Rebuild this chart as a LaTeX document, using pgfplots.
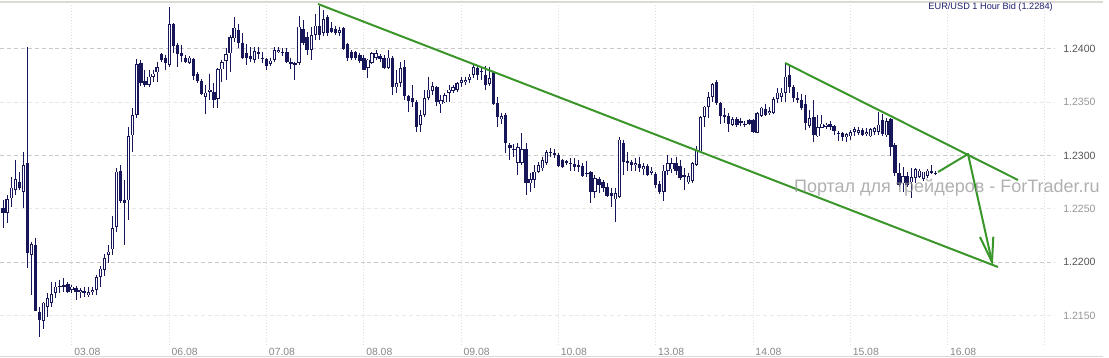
\documentclass[border=0pt]{standalone}
\usepackage{pgfplots}
\usepackage{pgfplotstable}
\pgfplotsset{compat=1.18}
\usepackage{fontspec}
\setmainfont{Liberation Sans}
\definecolor{candle}{RGB}{22,22,88}
\definecolor{grn}{RGB}{58,150,42}
\definecolor{gridmaj}{RGB}{200,200,200}
\definecolor{gridmin}{RGB}{232,232,232}
\definecolor{gridv}{RGB}{222,222,222}
\definecolor{labmaj}{RGB}{85,85,85}
\definecolor{labmin}{RGB}{150,150,150}
\definecolor{xlab}{RGB}{135,135,135}
\definecolor{framec}{RGB}{218,218,210}
\definecolor{titlec}{RGB}{30,30,110}
\definecolor{wm}{RGB}{150,150,150}

\pgfplotstableread{
h O H L C
-17 1.2251 1.2258 1.2232 1.2246
-16 1.2246 1.2263 1.2237 1.2259
-15 1.2260 1.2280 1.2252 1.2270
-14 1.2268 1.2296 1.2263 1.2278
-13 1.2275 1.2285 1.2268 1.2270
-12 1.2266 1.2303 1.2251 1.2291
-11 1.2293 1.2402 1.2195 1.2209
-10 1.2207 1.2219 1.2169 1.2217
-9 1.2216 1.2223 1.2154 1.2154
-8 1.2153 1.2158 1.2130 1.2146
-7 1.2145 1.2163 1.2137 1.2162
-6 1.2158 1.2171 1.2149 1.2166
-5 1.2162 1.2181 1.2158 1.2170
-4 1.2171 1.2181 1.2166 1.2177
-3 1.2177 1.2183 1.2171 1.2178
-2 1.2179 1.2185 1.2172 1.2177
-1 1.2180 1.2181 1.2171 1.2172
0 1.2174 1.2179 1.2171 1.2177
1 1.2176 1.2178 1.2165 1.2172
2 1.2172 1.2176 1.2166 1.2174
3 1.2173 1.2177 1.2167 1.2171
4 1.2169 1.2177 1.2167 1.2172
5 1.2172 1.2177 1.2169 1.2174
6 1.2174 1.2188 1.2169 1.2186
7 1.2186 1.2196 1.2177 1.2194
8 1.2193 1.2208 1.2187 1.2204
9 1.2207 1.2216 1.2199 1.2210
10 1.2212 1.2243 1.2207 1.2232
11 1.2233 1.2288 1.2228 1.2285
12 1.2286 1.2291 1.2256 1.2257
13 1.2258 1.2277 1.2216 1.2256
14 1.2258 1.2327 1.2240 1.2318
15 1.2319 1.2345 1.2303 1.2338
16 1.2338 1.2391 1.2335 1.2386
17 1.2387 1.2390 1.2365 1.2368
18 1.2370 1.2380 1.2364 1.2366
19 1.2366 1.2380 1.2364 1.2374
20 1.2374 1.2380 1.2369 1.2377
21 1.2378 1.2388 1.2369 1.2383
22 1.2395 1.2396 1.2388 1.2390
23 1.2392 1.2394 1.2380 1.2387
24 1.2385 1.2439 1.2383 1.2423
25 1.2423 1.2424 1.2396 1.2403
26 1.2404 1.2406 1.2383 1.2395
27 1.2396 1.2404 1.2388 1.2393
28 1.2392 1.2394 1.2387 1.2388
29 1.2387 1.2393 1.2386 1.2392
30 1.2391 1.2392 1.2371 1.2375
31 1.2377 1.2378 1.2368 1.2370
32 1.2370 1.2372 1.2357 1.2358
33 1.2355 1.2366 1.2339 1.2359
34 1.2360 1.2377 1.2352 1.2362
35 1.2360 1.2368 1.2345 1.2352
36 1.2353 1.2382 1.2345 1.2381
37 1.2381 1.2390 1.2369 1.2388
38 1.2389 1.2401 1.2371 1.2395
39 1.2396 1.2413 1.2378 1.2411
40 1.2410 1.2430 1.2407 1.2420
41 1.2418 1.2423 1.2401 1.2406
42 1.2406 1.2415 1.2391 1.2392
43 1.2396 1.2405 1.2385 1.2392
44 1.2393 1.2402 1.2388 1.2391
45 1.2390 1.2402 1.2387 1.2398
46 1.2397 1.2402 1.2391 1.2395
47 1.2392 1.2397 1.2387 1.2391
48 1.2391 1.2392 1.2380 1.2384
49 1.2386 1.2392 1.2384 1.2389
50 1.2390 1.2402 1.2388 1.2399
51 1.2397 1.2402 1.2396 1.2399
52 1.2397 1.2401 1.2393 1.2396
53 1.2397 1.2401 1.2387 1.2388
54 1.2388 1.2392 1.2381 1.2386
55 1.2387 1.2388 1.2371 1.2385
56 1.2387 1.2431 1.2385 1.2421
57 1.2419 1.2427 1.2404 1.2406
58 1.2411 1.2416 1.2394 1.2399
59 1.2399 1.2421 1.2390 1.2413
60 1.2413 1.2433 1.2408 1.2422
61 1.2422 1.2440 1.2408 1.2413
62 1.2415 1.2437 1.2412 1.2428
63 1.2430 1.2432 1.2412 1.2415
64 1.2420 1.2425 1.2415 1.2416
65 1.2419 1.2422 1.2413 1.2415
66 1.2415 1.2421 1.2412 1.2418
67 1.2420 1.2421 1.2399 1.2400
68 1.2405 1.2406 1.2389 1.2392
69 1.2397 1.2399 1.2390 1.2392
70 1.2397 1.2398 1.2390 1.2392
71 1.2394 1.2396 1.2387 1.2389
72 1.2392 1.2394 1.2380 1.2380
73 1.2382 1.2391 1.2373 1.2390
74 1.2387 1.2397 1.2386 1.2396
75 1.2392 1.2399 1.2390 1.2396
76 1.2393 1.2395 1.2388 1.2391
77 1.2392 1.2394 1.2381 1.2382
78 1.2382 1.2399 1.2381 1.2392
79 1.2392 1.2393 1.2357 1.2364
80 1.2364 1.2380 1.2359 1.2368
81 1.2368 1.2388 1.2364 1.2382
82 1.2383 1.2390 1.2352 1.2356
83 1.2356 1.2357 1.2341 1.2351
84 1.2354 1.2366 1.2346 1.2350
85 1.2350 1.2352 1.2322 1.2327
86 1.2329 1.2343 1.2322 1.2338
87 1.2338 1.2362 1.2336 1.2354
88 1.2354 1.2374 1.2352 1.2362
89 1.2361 1.2369 1.2357 1.2365
90 1.2364 1.2365 1.2347 1.2350
91 1.2348 1.2357 1.2340 1.2352
92 1.2350 1.2359 1.2349 1.2357
93 1.2359 1.2366 1.2350 1.2362
94 1.2361 1.2366 1.2359 1.2364
95 1.2362 1.2369 1.2360 1.2368
96 1.2368 1.2374 1.2364 1.2371
97 1.2369 1.2374 1.2366 1.2371
98 1.2371 1.2377 1.2368 1.2374
99 1.2376 1.2387 1.2373 1.2383
100 1.2382 1.2384 1.2371 1.2376
101 1.2379 1.2382 1.2371 1.2378
102 1.2376 1.2384 1.2362 1.2366
103 1.2367 1.2383 1.2365 1.2373
104 1.2378 1.2379 1.2347 1.2348
105 1.2349 1.2355 1.2327 1.2336
106 1.2334 1.2340 1.2330 1.2337
107 1.2338 1.2340 1.2302 1.2312
108 1.2310 1.2312 1.2296 1.2307
109 1.2306 1.2311 1.2299 1.2305
110 1.2293 1.2312 1.2282 1.2308
111 1.2293 1.2321 1.2291 1.2306
112 1.2306 1.2312 1.2263 1.2274
113 1.2274 1.2284 1.2266 1.2278
114 1.2277 1.2291 1.2270 1.2285
115 1.2285 1.2294 1.2284 1.2291
116 1.2288 1.2299 1.2286 1.2296
117 1.2293 1.2305 1.2291 1.2303
118 1.2302 1.2307 1.2299 1.2303
119 1.2302 1.2306 1.2298 1.2301
120 1.2301 1.2302 1.2289 1.2290
121 1.2296 1.2297 1.2288 1.2289
122 1.2295 1.2296 1.2291 1.2293
123 1.2292 1.2298 1.2286 1.2293
124 1.2292 1.2298 1.2286 1.2289
125 1.2291 1.2296 1.2285 1.2289
126 1.2290 1.2293 1.2280 1.2281
127 1.2283 1.2295 1.2280 1.2284
128 1.2285 1.2286 1.2256 1.2266
129 1.2266 1.2282 1.2260 1.2279
130 1.2278 1.2280 1.2265 1.2272
131 1.2275 1.2277 1.2266 1.2270
132 1.2271 1.2274 1.2261 1.2262
133 1.2265 1.2270 1.2252 1.2262
134 1.2259 1.2270 1.2238 1.2265
135 1.2261 1.2317 1.2260 1.2315
136 1.2312 1.2315 1.2282 1.2294
137 1.2295 1.2303 1.2286 1.2293
138 1.2294 1.2296 1.2286 1.2291
139 1.2291 1.2298 1.2286 1.2293
140 1.2292 1.2299 1.2285 1.2288
141 1.2287 1.2293 1.2282 1.2290
142 1.2290 1.2292 1.2281 1.2282
143 1.2284 1.2289 1.2282 1.2286
144 1.2283 1.2285 1.2270 1.2272
145 1.2273 1.2276 1.2264 1.2266
146 1.2266 1.2291 1.2257 1.2286
147 1.2286 1.2301 1.2282 1.2293
148 1.2287 1.2298 1.2284 1.2293
149 1.2293 1.2299 1.2282 1.2286
150 1.2290 1.2296 1.2277 1.2279
151 1.2282 1.2288 1.2268 1.2280
152 1.2275 1.2284 1.2273 1.2281
153 1.2276 1.2294 1.2274 1.2293
154 1.2291 1.2309 1.2290 1.2305
155 1.2304 1.2337 1.2303 1.2336
156 1.2336 1.2347 1.2327 1.2346
157 1.2346 1.2360 1.2335 1.2355
158 1.2355 1.2368 1.2350 1.2367
159 1.2369 1.2371 1.2347 1.2349
160 1.2349 1.2350 1.2330 1.2337
161 1.2338 1.2345 1.2331 1.2336
162 1.2337 1.2340 1.2322 1.2330
163 1.2329 1.2336 1.2328 1.2334
164 1.2334 1.2336 1.2327 1.2329
165 1.2331 1.2335 1.2328 1.2332
166 1.2330 1.2332 1.2327 1.2329
167 1.2333 1.2334 1.2329 1.2330
168 1.2333 1.2334 1.2321 1.2322
169 1.2321 1.2341 1.2321 1.2340
170 1.2337 1.2346 1.2336 1.2345
171 1.2344 1.2348 1.2337 1.2338
172 1.2340 1.2346 1.2338 1.2342
173 1.2340 1.2355 1.2339 1.2353
174 1.2353 1.2363 1.2349 1.2359
175 1.2355 1.2363 1.2350 1.2359
176 1.2359 1.2386 1.2350 1.2374
177 1.2376 1.2385 1.2359 1.2364
178 1.2364 1.2366 1.2350 1.2354
179 1.2354 1.2360 1.2349 1.2352
180 1.2352 1.2358 1.2343 1.2345
181 1.2348 1.2357 1.2324 1.2331
182 1.2328 1.2343 1.2326 1.2335
183 1.2336 1.2352 1.2313 1.2319
184 1.2318 1.2338 1.2317 1.2327
185 1.2326 1.2338 1.2326 1.2330
186 1.2327 1.2331 1.2325 1.2329
187 1.2330 1.2332 1.2324 1.2327
188 1.2328 1.2329 1.2319 1.2323
189 1.2321 1.2323 1.2314 1.2320
190 1.2321 1.2322 1.2314 1.2317
191 1.2317 1.2321 1.2313 1.2320
192 1.2318 1.2324 1.2315 1.2322
193 1.2322 1.2327 1.2318 1.2325
194 1.2321 1.2327 1.2319 1.2324
195 1.2324 1.2326 1.2318 1.2319
196 1.2320 1.2326 1.2318 1.2322
197 1.2318 1.2326 1.2317 1.2325
198 1.2322 1.2327 1.2319 1.2326
199 1.2322 1.2341 1.2319 1.2329
200 1.2333 1.2339 1.2318 1.2320
201 1.2319 1.2335 1.2317 1.2332
202 1.2334 1.2335 1.2300 1.2308
203 1.2310 1.2312 1.2281 1.2284
204 1.2284 1.2293 1.2271 1.2272
205 1.2274 1.2289 1.2266 1.2281
206 1.2281 1.2285 1.2271 1.2272
207 1.2275 1.2288 1.2260 1.2280
208 1.2279 1.2288 1.2274 1.2287
209 1.2280 1.2287 1.2279 1.2286
210 1.2278 1.2285 1.2276 1.2285
211 1.2281 1.2287 1.2279 1.2286
212 1.2286 1.2291 1.2283 1.2284
213 1.2283 1.2286 1.2282 1.2284
}\candles

\begin{document}
\begin{tikzpicture}
\path[use as bounding box] (0,-9pt) rectangle (831.75pt,258.75pt);
\begin{axis}[
  scale only axis,
  width=791.25pt, height=256.5pt,
  xmin=-17.76, xmax=242.48,
  ymin=1.212235, ymax=1.244315,
  axis line style={draw=none},
  tick style={draw=none},
  /pgf/number format/assume math mode=true,
  xtick={0,24,...,240},
  xticklabels={03.08,06.08,07.08,08.08,09.08,10.08,13.08,14.08,15.08,16.08,{}},
  xticklabel style={anchor=north west, inner sep=0pt, xshift=1.6pt, yshift=-2.6pt,
    font=\fontsize{7.8}{9}\selectfont, text=xlab},
  ytick={1.22,1.23,1.24},
  yticklabel pos=right,
  yticklabel style={anchor=west, inner sep=0pt, xshift=6pt,
    font=\fontsize{7.9}{9}\selectfont, text=labmaj,
    /pgf/number format/fixed, /pgf/number format/fixed zerofill,
    /pgf/number format/precision=4},
  extra y ticks={1.215,1.225,1.235},
  extra y tick style={grid=major,
    y grid style={draw=gridmin, line width=0.75pt, dash pattern=on 3pt off 2.2pt},
    major grid style={draw=gridmin, line width=0.75pt, dash pattern=on 3pt off 2.2pt},
    yticklabel style={/tikz/text=labmin}},
  xmajorgrids, ymajorgrids,
  x grid style={draw=gridv, line width=0.75pt, dash pattern=on 0.75pt off 1.5pt},
  y grid style={draw=gridmaj, line width=0.75pt, dash pattern=on 3pt off 2.2pt},
]
% wicks
\addplot[draw=none, mark=none, forget plot,
  error bars/.cd, y dir=minus, y explicit, error mark=none,
  error bar style={draw=candle, solid, line width=0.75pt}]
  table[x=h, y=H, y error minus expr={\thisrow{H}-\thisrow{L}}] {\candles};
% bodies (dark)
\addplot[draw=none, mark=none, forget plot,
  error bars/.cd, y dir=minus, y explicit, error mark=none,
  error bar style={draw=candle, solid, line width=2.5pt}]
  table[x=h, y expr={max(\thisrow{O},\thisrow{C})},
        y error minus expr={max(abs(\thisrow{O}-\thisrow{C}),0.00007)}] {\candles};
% hollow interior of rising candles
\addplot[draw=none, mark=none, forget plot,
  restrict expr to domain={\thisrow{C}-\thisrow{O}}{0.00018:1},
  error bars/.cd, y dir=minus, y explicit, error mark=none,
  error bar style={draw=white, solid, line width=0.9pt}]
  table[x=h, y expr={\thisrow{C}-0.00007},
        y error minus expr={\thisrow{C}-\thisrow{O}-0.00014}] {\candles};
% trend lines and forecast arrow
\addplot[grn, line width=1.5pt, mark=none] coordinates {(60.68,1.24422) (228.42,1.21955)};
\addplot[grn, line width=1.5pt, mark=none] coordinates {(175.88,1.23869) (233.35,1.22771)};
\addplot[grn, line width=1.5pt, mark=none, line join=round] coordinates {(213.62,1.22846) (221.02,1.23015) (226.94,1.22002)};
\addplot[grn, line width=1.5pt, mark=none, line join=miter] coordinates {(223.97,1.22237) (226.94,1.22002) (227.26,1.22239)};
\end{axis}
\draw[framec, line width=1.5pt] (0,257.6pt) -- (827.25pt,257.6pt);
\draw[framec, line width=1pt] (0,-8.6pt) -- (827.25pt,-8.6pt);
\node[anchor=east, inner sep=0pt, text=titlec, font=\fontsize{6.9}{8}\selectfont]
  at (789.75pt,253.5pt) {EUR/USD 1 Hour Bid (1.2284)};
\node[anchor=east, inner sep=0pt, text=wm, opacity=0.75, font=\fontsize{13.5}{16}\selectfont]
  at (825pt,117.75pt) {Портал для трейдеров - ForTrader.ru};
\end{tikzpicture}
\end{document}
